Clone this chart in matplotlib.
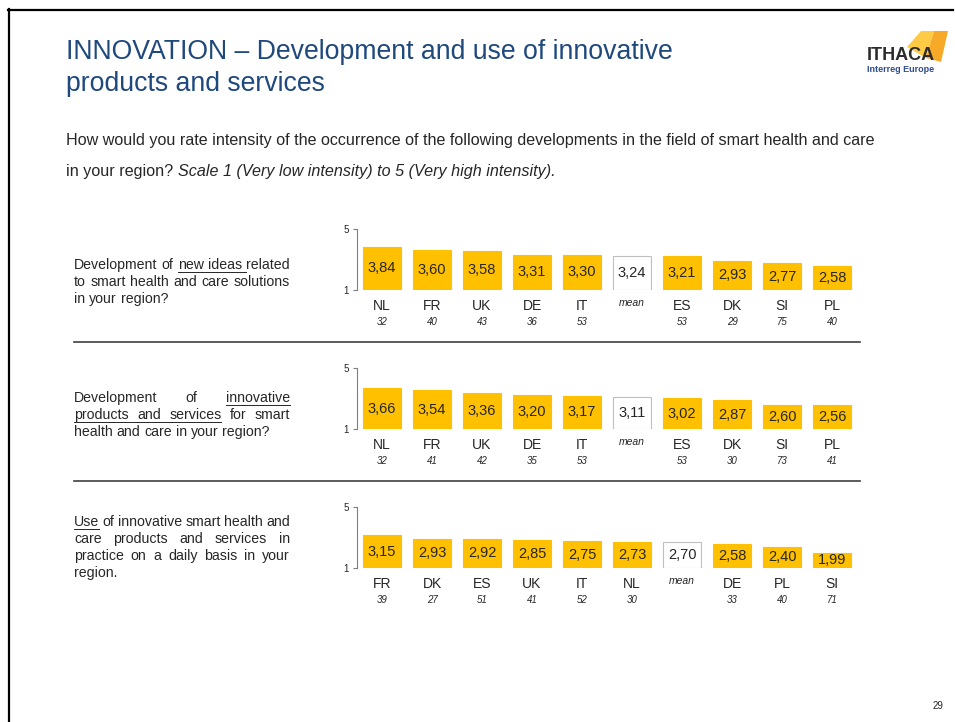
import numpy as np
import matplotlib
matplotlib.use("Agg")
import matplotlib.pyplot as plt
from matplotlib.lines import Line2D
from matplotlib.patches import Polygon

plt.rcParams['font.family'] = ['Liberation Sans', 'DejaVu Sans']

W, H = 955, 722
YELLOW = '#FFC000'
BLUE = '#1F497D'
TXT = '#262626'

# data for the three questions
cats1 = ['NL', 'FR', 'UK', 'DE', 'IT', 'mean', 'ES', 'DK', 'SI', 'PL']
vals1 = [3.84, 3.60, 3.58, 3.31, 3.30, 3.24, 3.21, 2.93, 2.77, 2.58]
n1 = ['32', '40', '43', '36', '53', '', '53', '29', '75', '40']

cats2 = ['NL', 'FR', 'UK', 'DE', 'IT', 'mean', 'ES', 'DK', 'SI', 'PL']
vals2 = [3.66, 3.54, 3.36, 3.20, 3.17, 3.11, 3.02, 2.87, 2.60, 2.56]
n2 = ['32', '41', '42', '35', '53', '', '53', '30', '73', '41']

cats3 = ['FR', 'DK', 'ES', 'UK', 'IT', 'NL', 'mean', 'DE', 'PL', 'SI']
vals3 = [3.15, 2.93, 2.92, 2.85, 2.75, 2.73, 2.70, 2.58, 2.40, 1.99]
n3 = ['39', '27', '51', '41', '52', '30', '', '33', '40', '71']

# question texts: (word, underline) 0 = none, 1 = word, 2 = word + following gap
q1 = [[('Development', 0), ('of', 0), ('new', 2), ('ideas', 2), ('related', 0)],
      [('to', 0), ('smart', 0), ('health', 0), ('and', 0), ('care', 0), ('solutions', 0)],
      [('in', 0), ('your', 0), ('region?', 0)]]
q2 = [[('Development', 0), ('of', 0), ('innovative', 1)],
      [('products', 2), ('and', 2), ('services', 1), ('for', 0), ('smart', 0)],
      [('health', 0), ('and', 0), ('care', 0), ('in', 0), ('your', 0), ('region?', 0)]]
q3 = [[('Use', 1), ('of', 0), ('innovative', 0), ('smart', 0), ('health', 0), ('and', 0)],
      [('care', 0), ('products', 0), ('and', 0), ('services', 0), ('in', 0)],
      [('practice', 0), ('on', 0), ('a', 0), ('daily', 0), ('basis', 0), ('in', 0), ('your', 0)],
      [('region.', 0)]]


def fx(x):
    return x / W


def fy(y):
    return 1 - y / H


fig = plt.figure(figsize=(W / 100, H / 100), dpi=100)
r = fig.canvas.get_renderer()

# slide frame
fig.add_artist(Line2D([fx(8), fx(953)], [fy(9.5), fy(9.5)], color='black', lw=1.6))
fig.add_artist(Line2D([fx(8.5), fx(8.5)], [fy(9), fy(722)], color='black', lw=1.6))

# title and question
fig.text(fx(66), fy(52), 'INNOVATION \u2013 Development and use of innovative',
         fontsize=19.2, color=BLUE, va='center')
fig.text(fx(66), fy(84), 'products and services', fontsize=19.2, color=BLUE, va='center')
fig.text(fx(66), fy(145), 'How would you rate intensity of the occurrence of the following '
         'developments in the field of smart health and care', fontsize=11.6, color=TXT, va='baseline')
t = fig.text(fx(66), fy(176), 'in your region? ', fontsize=11.6, color=TXT, va='baseline')
wd = t.get_window_extent(r).width
fig.text(fx(66 + wd), fy(176), 'Scale 1 (Very low intensity) to 5 (Very high intensity).',
         fontsize=11.6, color=TXT, va='baseline', style='italic')

# logo
fig.add_artist(Polygon([(fx(921), fy(31)), (fx(934), fy(31)), (fx(926), fy(58)), (fx(907), fy(47))],
                       closed=True, transform=fig.transFigure, color='#FFCB45', lw=0))
fig.add_artist(Polygon([(fx(934), fy(31)), (fx(948), fy(31)), (fx(941), fy(62)), (fx(926), fy(58))],
                       closed=True, transform=fig.transFigure, color='#F7A928', lw=0))
fig.text(fx(901), fy(56), 'ITHACA', fontsize=13, color='#2B2B2B', ha='center', va='center',
         weight='semibold')
fig.text(fx(901), fy(69), 'Interreg Europe', fontsize=6.5, color='#2F4C8F', ha='center',
         va='center', weight='bold')
fig.text(fx(938), fy(706), '29', fontsize=7, color=TXT, ha='center', va='center')

# separators
for y in [342, 481]:
    fig.add_artist(Line2D([fx(74), fx(860)], [fy(y), fy(y)], color='#404040', lw=1.2))


def space_width(fs):
    a = fig.text(0, 0, 'x x', fontsize=fs)
    b = fig.text(0, 0, 'xx', fontsize=fs)
    s = a.get_window_extent(r).width - b.get_window_extent(r).width
    a.remove()
    b.remove()
    return s


def paragraph(lines, x0, x1, y0, dy, fs=10.2):
    sp = space_width(fs)
    for i, words in enumerate(lines):
        y = y0 + i * dy
        objs = [fig.text(0, fy(y), w, fontsize=fs, color=TXT, va='baseline') for w, _ in words]
        widths = [o.get_window_extent(r).width for o in objs]
        if i == len(lines) - 1 or len(objs) == 1:
            gap = sp
        else:
            gap = (x1 - x0 - sum(widths)) / (len(objs) - 1)
        x = x0
        for o, w, (_, ul) in zip(objs, widths, words):
            o.set_x(fx(x))
            if ul:
                xe = x + w + (gap if ul == 2 else 0)
                fig.add_artist(Line2D([fx(x), fx(xe)], [fy(y + 2.5), fy(y + 2.5)],
                                      color=TXT, lw=0.7))
            x += w + gap


paragraph(q1, 74, 290, 269, 17)
paragraph(q2, 74, 290, 402, 17)
paragraph(q3, 74, 290, 526, 17)


def panel(cats, vals, ns, ytop, ybot):
    ax = fig.add_axes([fx(357), fy(ybot), 500 / W, (ybot - ytop) / H])
    x = np.arange(len(cats))
    colors = ['white' if c == 'mean' else YELLOW for c in cats]
    edges = ['#BFBFBF' if c == 'mean' else YELLOW for c in cats]
    ax.bar(x, np.array(vals) - 1, bottom=1, width=0.75, color=colors, edgecolor=edges, lw=0.8)
    for xi, v, c, n in zip(x, vals, cats, ns):
        ax.text(xi, (1 + v) / 2, f'{v:.2f}'.replace('.', ','), ha='center', va='center',
                fontsize=10.5, color=TXT)
        if c == 'mean':
            ax.annotate('mean', (xi, 1), xytext=(0, -13), textcoords='offset pixels',
                        ha='center', va='center', fontsize=7.5, style='italic', color=TXT)
        else:
            ax.annotate(c, (xi, 1), xytext=(0, -16), textcoords='offset pixels',
                        ha='center', va='center', fontsize=10, color=TXT)
            ax.annotate(n, (xi, 1), xytext=(0, -32), textcoords='offset pixels',
                        ha='center', va='center', fontsize=7, style='italic', color=TXT)
    ax.set_xlim(-0.5, 9.5)
    ax.set_ylim(1, 5)
    ax.set_yticks([1, 5])
    ax.set_yticklabels(['1', '5'], fontsize=7, color=TXT)
    ax.set_xticks([])
    for s in ['top', 'right', 'bottom']:
        ax.spines[s].set_visible(False)
    ax.spines['left'].set_color('#7F7F7F')
    ax.spines['left'].set_linewidth(0.8)
    ax.tick_params(axis='y', length=3, width=0.8, color='#7F7F7F', pad=3)
    ax.patch.set_visible(False)
    return ax


panel(cats1, vals1, n1, 229, 290)
panel(cats2, vals2, n2, 368, 429)
panel(cats3, vals3, n3, 507, 568)

fig.savefig('out.png', dpi=100)
